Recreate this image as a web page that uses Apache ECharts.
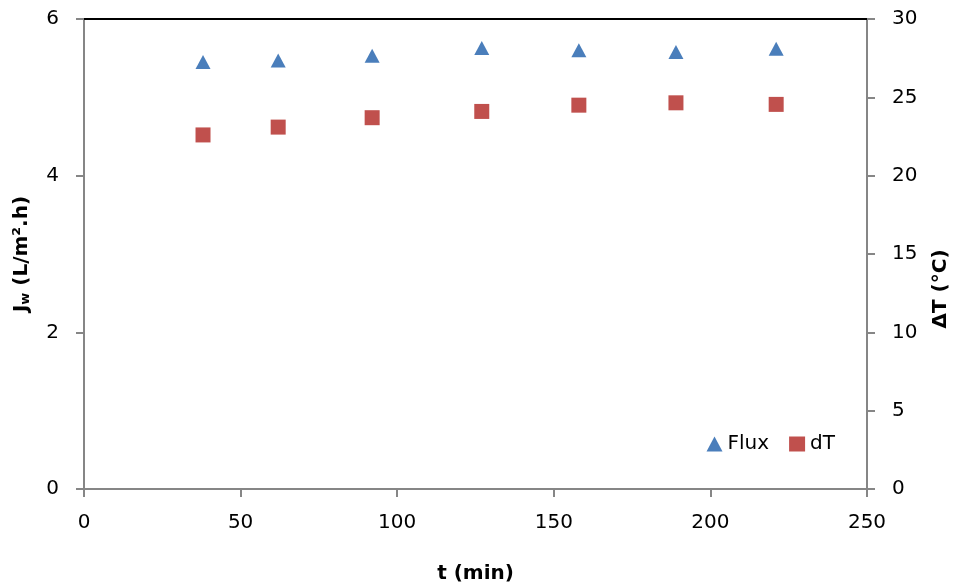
<!DOCTYPE html>
<html>
<head>
<meta charset="utf-8">
<script src="https://cdn.jsdelivr.net/npm/echarts@6/dist/echarts.min.js"></script>
<style>html,body{margin:0;padding:0;background:#fff}#c{width:954px;height:586px}</style>
</head>
<body>
<div id="c"></div>
<script>
var timeMin = [38, 62, 92, 127, 158, 189, 221];
var fluxValues = [5.45, 5.47, 5.53, 5.63, 5.60, 5.58, 5.62];
var dTValues = [22.6, 23.1, 23.7, 24.1, 24.5, 24.65, 24.55];
var leftTicks = [0, 2, 4, 6];
var rightTicks = [0, 5, 10, 15, 20, 25, 30];
var xTicks = [0, 50, 100, 150, 200, 250];

var fontFam = '"DejaVu Sans", "Liberation Sans", sans-serif';
var chart = echarts.init(document.getElementById('c'), null, {renderer: 'canvas'});
function pairs(xs, ys){ return xs.map(function(x,i){ return [x, ys[i]]; }); }
var gray = '#868686';
chart.setOption({
  animation: false,
  backgroundColor: '#fff',
  textStyle: {fontFamily: fontFam},
  grid: {left: 84, right: 87, top: 19, bottom: 97, containLabel: false, outerBoundsMode: 'none'},
  legend: {
    right: 114, top: 429, itemWidth: 16, itemHeight: 15, itemGap: 20,
    textStyle: {fontSize: 20, color: '#000', fontFamily: fontFam},
    data: [{name: 'Flux', icon: 'triangle'}, {name: 'dT', icon: 'rect'}]
  },
  xAxis: [{
    type: 'value', min: xTicks[0], max: xTicks[xTicks.length-1], interval: 50,
    name: 't (min)', nameLocation: 'middle', nameGap: 75,
    nameTextStyle: {fontSize: 20, fontWeight: 'bold', color: '#000', fontFamily: fontFam},
    axisLine: {show: true, onZero: false, lineStyle: {color: gray, width: 2}},
    axisTick: {show: true, length: 8, lineStyle: {color: gray, width: 2}},
    axisLabel: {fontSize: 20, color: '#000', margin: 24, fontFamily: fontFam},
    splitLine: {show: false}
  }, {
    type: 'value', position: 'top', min: 0, max: 250,
    axisLine: {show: true, onZero: false, lineStyle: {color: '#000', width: 2}},
    axisTick: {show: false}, axisLabel: {show: false}, splitLine: {show: false}
  }],
  yAxis: [{
    type: 'value', min: leftTicks[0], max: leftTicks[leftTicks.length-1], interval: 2,
    alignTicks: false,
    name: '{b|J}{s|w}{b| (L/m².h)}', nameLocation: 'middle', nameGap: 52, nameRotate: 90,
    nameTextStyle: {
      color: '#000', fontFamily: fontFam,
      rich: {
        b: {fontSize: 20, fontWeight: 'bold', color: '#000', fontFamily: fontFam},
        s: {fontSize: 13, fontWeight: 'bold', color: '#000', fontFamily: fontFam, verticalAlign: 'bottom', padding: [8,0,0,0]}
      }
    },
    axisLine: {show: true, onZero: false, lineStyle: {color: gray, width: 2}},
    axisTick: {show: true, length: 8, lineStyle: {color: gray, width: 2}},
    axisLabel: {fontSize: 20, color: '#000', margin: 25, fontFamily: fontFam},
    splitLine: {show: false}
  }, {
    type: 'value', position: 'right', min: rightTicks[0], max: rightTicks[rightTicks.length-1], interval: 5,
    alignTicks: false,
    name: 'ΔT (°C)', nameLocation: 'middle', nameGap: 64, nameRotate: 90,
    nameTextStyle: {fontSize: 20, fontWeight: 'bold', color: '#000', fontFamily: fontFam, padding: [0, 70, 0, 0]},
    axisLine: {show: true, onZero: false, lineStyle: {color: gray, width: 2}},
    axisTick: {show: true, length: 8, lineStyle: {color: gray, width: 2}},
    axisLabel: {fontSize: 20, color: '#000', margin: 25, fontFamily: fontFam},
    splitLine: {show: false}
  }],
  series: [{
    name: 'Flux', type: 'scatter', xAxisIndex: 0, yAxisIndex: 0,
    symbol: 'triangle', symbolSize: [15, 14],
    itemStyle: {color: '#4A7EBB', opacity: 1},
    data: pairs(timeMin, fluxValues)
  }, {
    name: 'dT', type: 'scatter', xAxisIndex: 0, yAxisIndex: 1,
    symbol: 'rect', symbolSize: 15,
    itemStyle: {color: '#C0504D', opacity: 1},
    data: pairs(timeMin, dTValues)
  }]
});
</script>
</body>
</html>
